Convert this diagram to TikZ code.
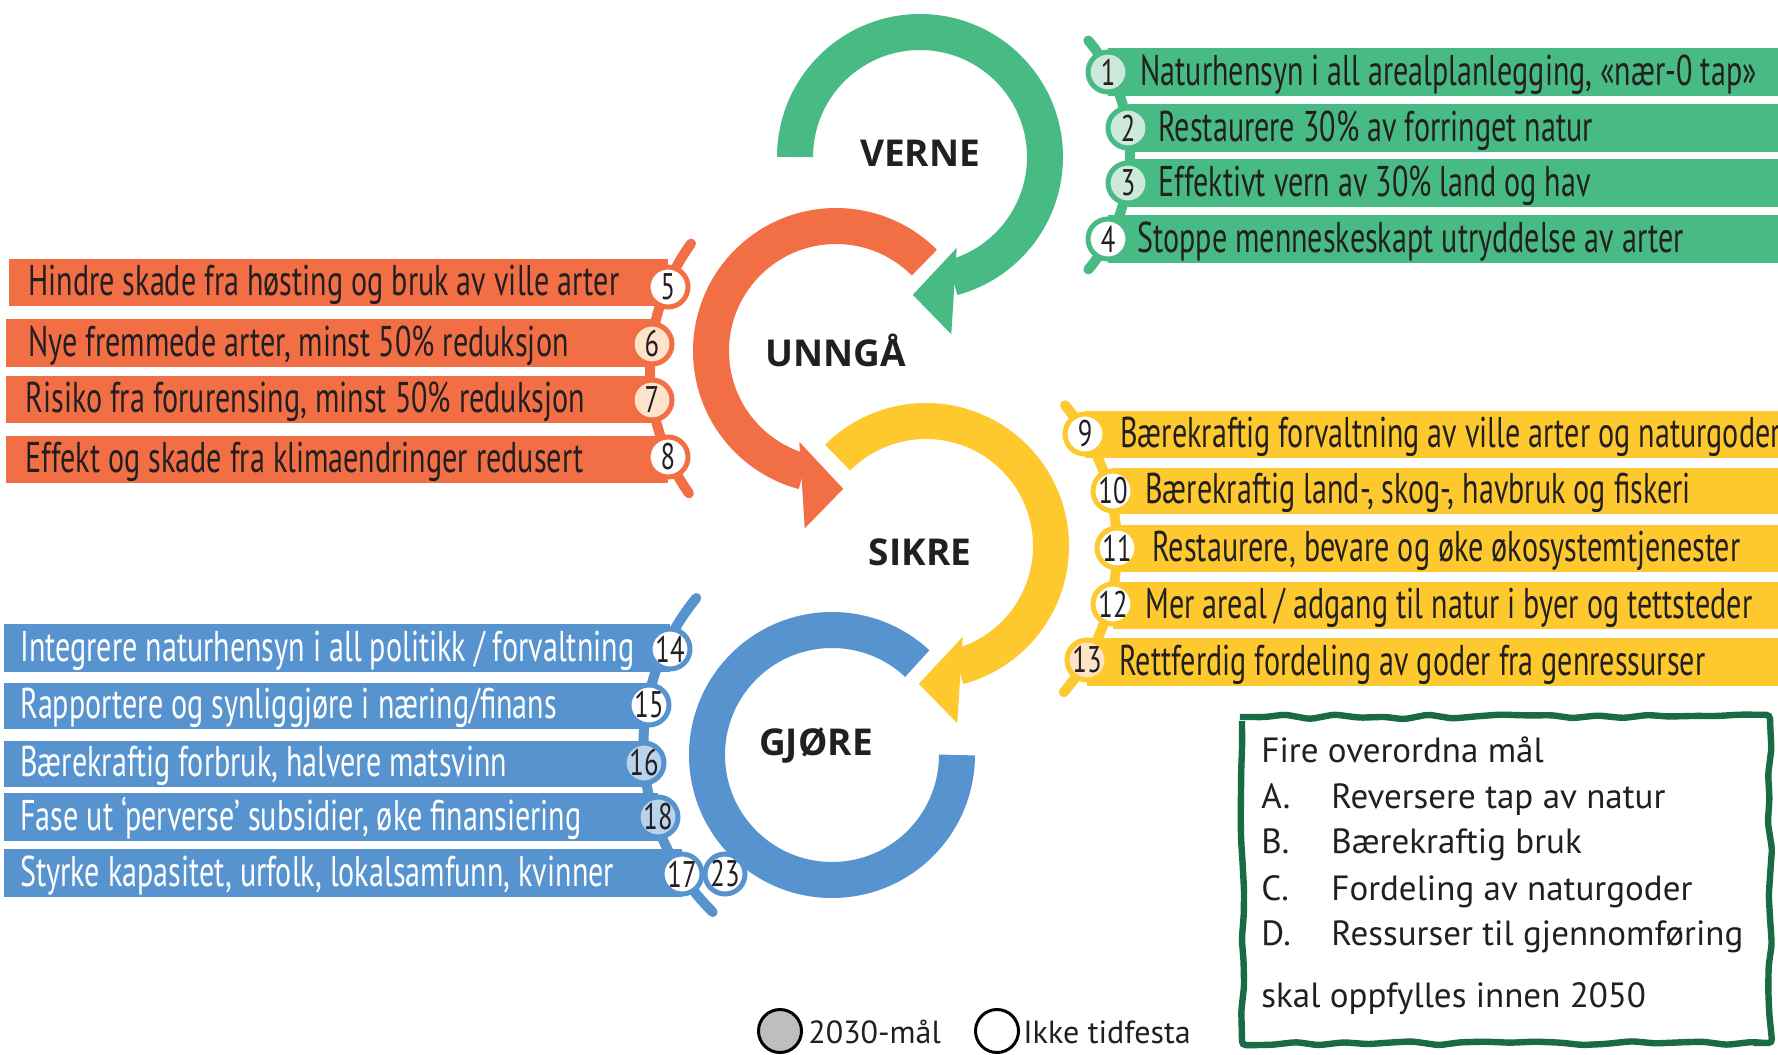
\documentclass[tikz,border=0pt]{standalone}
\usepackage{fontspec}
\setmainfont{PT Sans}
\newfontfamily\condfont{PT Sans}[FakeStretch=0.70]
\newfontfamily\numfont{PT Sans}[FakeStretch=0.72]
\newfontfamily\titlefont{Open Sans}
\usetikzlibrary{calc,decorations.pathmorphing}
\definecolor{cgreen}{HTML}{47BB83}
\definecolor{corange}{HTML}{F26F45}
\definecolor{cyellow}{HTML}{FDC92F}
\definecolor{cblue}{HTML}{5794CF}
\definecolor{lgreen}{HTML}{CDE9DB}
\definecolor{lorange}{HTML}{FDE2CC}
\definecolor{lyellow}{HTML}{FDE4C4}
\definecolor{lblue}{HTML}{B9D3EA}
\definecolor{dgreen}{HTML}{186B45}
\definecolor{ink}{HTML}{231F20}
\definecolor{lgray}{HTML}{BCBEC0}
\begin{document}
\pgfmathsetseed{11}
\begin{tikzpicture}[x=0.5pt,y=-0.5pt,
  ring/.style={line width=18pt},
  spine/.style={line width=5pt, line cap=round},
  bartext/.style={anchor=base west, inner sep=0pt, font=\condfont\fontsize{21.5}{24}\selectfont, text=ink},
  numc/.style={circle, draw, line width=2.5pt, minimum size=20pt, inner sep=0pt, font=\numfont\fontsize{18.5}{20}\selectfont, text=ink},
  title/.style={font=\titlefont\bfseries\fontsize{18.5}{20}\selectfont, text=ink, inner sep=0pt},
  legtext/.style={anchor=base west, inner sep=0pt, font=\fontsize{17.5}{20}\selectfont, text=ink},
  keytext/.style={anchor=base west, inner sep=0pt, font=\fontsize{16}{18}\selectfont, text=ink},
  keyc/.style={circle, draw=black, line width=1.5pt, minimum size=21.5pt, inner sep=0pt}
]
\useasboundingbox (0,0) rectangle (1778,1055);
\fill[white] (0,0) rectangle (1778,1055);

% ---------- centres ----------
\coordinate (gc) at (920,157);
\coordinate (oc) at (836,351);
\coordinate (yc) at (926,546);
\coordinate (bc) at (832,755);

% ---------- green bars ----------
\fill[cgreen] (1108,48) rectangle (1778,96);
\fill[cgreen] (1128,104) rectangle (1778,152);
\fill[cgreen] (1128,159) rectangle (1778,207);
\fill[cgreen] (1108,215) rectangle (1778,263);
\draw[spine,cgreen] ($(952,155)+(-40:178)$) arc[start angle=-40, end angle=40, radius=178];
\node[numc,draw=cgreen,fill=lgreen] (c1) at (1108,72) {1};
\node[numc,draw=cgreen,fill=lgreen] (c2) at (1128,128) {2};
\node[numc,draw=cgreen,fill=lgreen] (c3) at (1128,183) {3};
\node[numc,draw=cgreen,fill=white] (c4) at (1108,239) {4};
\node[bartext] (t1) at (1140,85) {Naturhensyn i all arealplanlegging, «nær-0 tap»};
\node[bartext] (t2) at (1158,141) {Restaurere 30\% av forringet natur};
\node[bartext] (t3) at (1158,196) {Effektivt vern av 30\% land og hav};
\node[bartext] (t4) at (1137,252) {Stoppe menneskeskapt utryddelse av arter};

% ---------- orange bars ----------
\fill[corange] (9,259) rectangle (668,306);
\fill[corange] (6,319) rectangle (652,367);
\fill[corange] (6,376) rectangle (652,423);
\fill[corange] (6,436) rectangle (668,483);
\draw[spine,corange] ($(865,370)+(145:215)$) arc[start angle=145, end angle=216, radius=215];
\node[numc,draw=corange,fill=white] (c5) at (668,287) {5};
\node[numc,draw=corange,fill=lorange] (c6) at (652,344) {6};
\node[numc,draw=corange,fill=lorange] (c7) at (652,400) {7};
\node[numc,draw=corange,fill=white] (c8) at (668,457) {8};
\node[bartext] (t5) at (28,295) {Hindre skade fra høsting og bruk av ville arter};
\node[bartext] (t6) at (28,356) {Nye fremmede arter, minst 50\% reduksjon};
\node[bartext] (t7) at (25,412) {Risiko fra forurensing, minst 50\% reduksjon};
\node[bartext] (t8) at (25,472) {Effekt og skade fra klimaendringer redusert};

% ---------- yellow bars ----------
\fill[cyellow] (1085,411) rectangle (1778,458);
\fill[cyellow] (1113,468) rectangle (1778,514);
\fill[cyellow] (1117,525) rectangle (1778,572);
\fill[cyellow] (1113,582) rectangle (1778,629);
\fill[cyellow] (1087,638) rectangle (1778,686);
\draw[spine,cyellow] ($(895,548)+(-40:222)$) arc[start angle=-40, end angle=40.5, radius=222];
\node[numc,draw=cyellow,fill=white] (c9) at (1085,434) {9};
\node[numc,draw=cyellow,fill=white] (c10) at (1113,491) {10};
\node[numc,draw=cyellow,fill=white] (c11) at (1117,548) {11};
\node[numc,draw=cyellow,fill=white] (c12) at (1113,604) {12};
\node[numc,draw=cyellow,fill=lyellow] (c13) at (1087,660) {13};
\node[bartext] (t9) at (1120,447) {Bærekraftig forvaltning av ville arter og naturgoder};
\node[bartext] (t10) at (1145,503) {Bærekraftig land-, skog-, havbruk og fiskeri};
\node[bartext] (t11) at (1152,561) {Restaurere, bevare og øke økosystemtjenester};
\node[bartext] (t12) at (1145,618) {Mer areal / adgang til natur i byer og tettsteder};
\node[bartext] (t13) at (1119,675) {Rettferdig fordeling av goder fra genressurser};

% ---------- blue bars ----------
\fill[cblue] (4,624) rectangle (670,672);
\fill[cblue] (4,683) rectangle (649,729);
\fill[cblue] (4,741) rectangle (644,787);
\fill[cblue] (4,793) rectangle (658,841);
\fill[cblue] (4,849) rectangle (682,897);
\draw[spine,cblue] ($(877,746)+(134.7:233.6)$) arc[start angle=134.7, end angle=219.3, radius=233.6];
\node[numc,draw=cblue,fill=white] (c14) at (670,649) {14};
\node[numc,draw=cblue,fill=white] (c15) at (649,705) {15};
\node[numc,draw=cblue,fill=lblue] (c16) at (644,763) {16};
\node[numc,draw=cblue,fill=lblue] (c18) at (658,817) {18};
\node[numc,draw=cblue,fill=white] (c17) at (682,874) {17};
\node[numc,draw=cblue,fill=white] (c23) at (725,874) {23};
\node[bartext,text=white] (t14) at (20,661) {Integrere naturhensyn i all politikk / forvaltning};
\node[bartext,text=white] (t15) at (20,718) {Rapportere og synliggjøre i næring/finans};
\node[bartext,text=white] (t16) at (20,776) {Bærekraftig forbruk, halvere matsvinn};
\node[bartext,text=white] (t18) at (20,830) {Fase ut ‘perverse’ subsidier, øke finansiering};
\node[bartext,text=white] (t17) at (20,886) {Styrke kapasitet, urfolk, lokalsamfunn, kvinner};

% ---------- rings ----------
\draw[ring,cgreen] ($(gc)+(180:125)$) arc[start angle=180, end angle=435, radius=125];
\fill[cgreen] ($(gc)+(68:98)$) -- ($(gc)+(80:180)$) -- ($(gc)+(93:138)$) -- cycle;
\draw[ring,corange] ($(oc)+(-45:125)$) arc[start angle=-45, end angle=-255, radius=125];
\fill[corange] ($(oc)+(112:98)$) -- ($(oc)+(100:180)$) -- ($(oc)+(87:138)$) -- cycle;
\draw[ring,cyellow] ($(yc)+(-135:125)$) arc[start angle=-135, end angle=75, radius=125];
\fill[cyellow] ($(yc)+(68:98)$) -- ($(yc)+(80:180)$) -- ($(yc)+(93:138)$) -- cycle;
\draw[ring,cblue] ($(bc)+(-47:125)$) arc[start angle=-47, end angle=-360, radius=125];

\node[title] (verne) at (920,153) {VERNE};
\node[title] (unnga) at (836,350) {UNNGÅ};
\node[title] (sikre) at (920,552) {SIKRE};
\node[title] (gjore) at (816,745) {GJØRE};

% ---------- goals box ----------
\draw[dgreen, line width=3.2pt, rounded corners=2pt, decorate,
      decoration={random steps, segment length=12pt, amplitude=1.3pt}]
      (1242,717) rectangle (1770,1043);
\node[legtext] (g0) at (1261,762) {Fire overordna mål};
\node[legtext] (ga) at (1261,808) {A.};
\node[legtext] (gat) at (1331,808) {Reversere tap av natur};
\node[legtext] (gb) at (1261,853) {B.};
\node[legtext] (gbt) at (1331,853) {Bærekraftig bruk};
\node[legtext] (gcc) at (1261,900) {C.};
\node[legtext] (gct) at (1331,900) {Fordeling av naturgoder};
\node[legtext] (gd) at (1261,945) {D.};
\node[legtext] (gdt) at (1331,945) {Ressurser til gjennomføring};
\node[legtext] (gs) at (1261,1007) {skal oppfylles innen 2050};

% ---------- key ----------
\node[keyc,fill=lgray] (k1) at (780,1031) {};
\node[keytext] (k1t) at (808,1043) {2030-mål};
\node[keyc,fill=white] (k2) at (997,1031) {};
\node[keytext] (k2t) at (1023,1043) {Ikke tidfesta};
\end{tikzpicture}
\end{document}
